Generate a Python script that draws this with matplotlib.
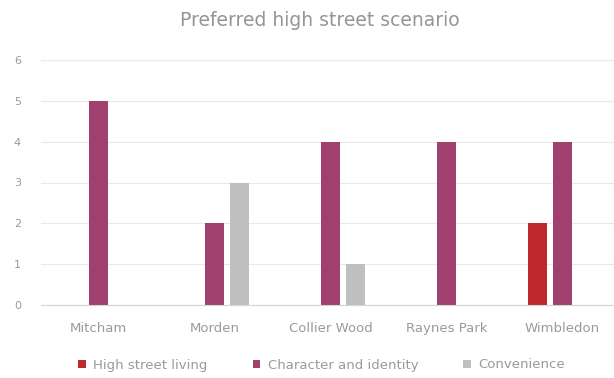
import numpy as np
import matplotlib
matplotlib.use('Agg')
import matplotlib.pyplot as plt

# Survey results per high street
areas = ['Mitcham', 'Morden', 'Collier Wood', 'Raynes Park', 'Wimbledon']
living = [0, 0, 0, 0, 2]
character = [5, 2, 4, 4, 4]
convenience = [0, 3, 1, 0, 0]
series_names = ['High street living', 'Character and identity', 'Convenience']
colors = ['#c0272d', '#a0406f', '#bfbfbf']

plt.rcParams['font.family'] = ['DejaVu Sans']

fig = plt.figure(figsize=(6.14, 3.78), dpi=100)
ax = fig.add_axes([40.5 / 614, 73 / 378, 580 / 614, 245 / 378])

x = np.arange(len(areas))
step, width = 0.215, 0.168
for k, (vals, name, color) in enumerate(zip([living, character, convenience],
                                            series_names, colors)):
    ax.bar(x + (k - 1) * step, vals, width, color=color, label=name,
           zorder=2)

# axes styling
ax.set_xlim(-0.5, len(areas) - 0.5)
ax.set_ylim(0, 6)
ax.set_yticks(range(7))
ax.set_xticks(x)
ax.set_xticklabels(areas)
ax.grid(axis='y', color='#e8e8e8', linewidth=0.8, zorder=0)
for side in ['top', 'right', 'left']:
    ax.spines[side].set_visible(False)
ax.spines['bottom'].set_color('#d4d4d4')
ax.tick_params(axis='both', length=0, colors='#9a9a9a')
ax.tick_params(axis='x', pad=12, labelsize=9.5)
ax.tick_params(axis='y', pad=14, labelsize=8)

fig.text(0.521, 0.945, 'Preferred high street scenario', ha='center',
         va='center', fontsize=13.5, color='#959595')

fig.legend(loc='center', bbox_to_anchor=(0.524, 1 - 365 / 378), ncol=3,
           frameon=False, fontsize=9.5, labelcolor='#9a9a9a',
           handlelength=0.55, handleheight=0.55, handletextpad=0.6,
           columnspacing=3.4)

fig.savefig('out.png', dpi=100)
